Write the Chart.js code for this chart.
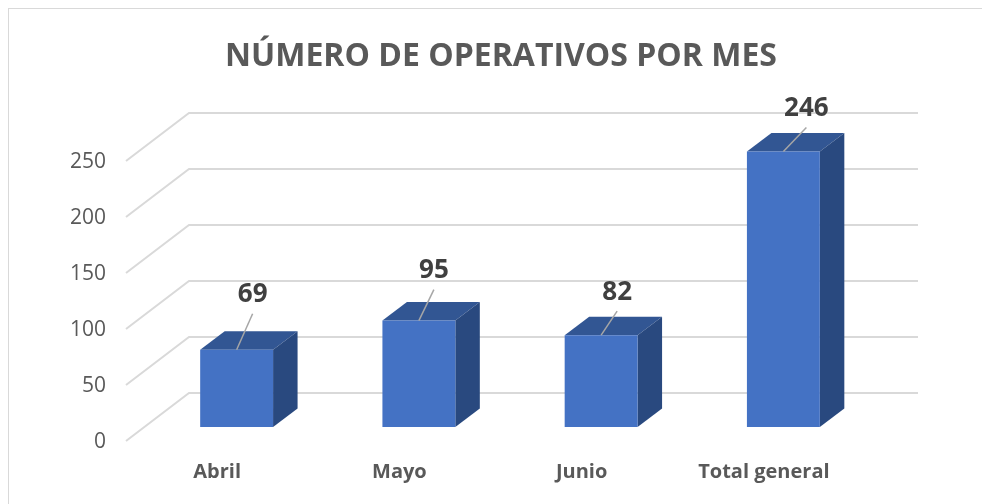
<!DOCTYPE html>
<html>
<head>
<meta charset="utf-8">
<style>
  html, body { margin: 0; padding: 0; background: #fff; }
  #wrap { position: relative; width: 982px; height: 504px; overflow: hidden; }
  #frame { position: absolute; left: 8px; top: 8px; width: 1100px; height: 600px; border: 1.5px solid #d9d9d9; }
  canvas { position: absolute; left: 0; top: 0; }
</style>
<script src="https://cdn.jsdelivr.net/npm/chart.js@4/dist/chart.umd.min.js"></script>
</head>
<body>
<div id="wrap">
  <div id="frame"></div>
  <canvas id="chart" width="982" height="504"></canvas>
</div>
<script>
const categories = ["Abril", "Mayo", "Junio", "Total general"];
const operativos = [69, 95, 82, 246];
const yTicks = [0, 50, 100, 150, 200, 250];

// fake 3d: front wall -> back wall offset, bar sits part way along it
const wallDx = 63, wallDy = -48;
const barDx = 19.5, barDy = -14;
const depthDx = 24.5, depthDy = -18.5;
// leader line end, relative to the bar's top centre
const leaderEnd = [[16, -36], [15, -31], [16, -24], [23, -24]];
const labelDy = -19;
const tickShift = 1.5;

const fontName = "'Open Sans', sans-serif";

const fake3d = {
  id: "fake3d",
  afterLayout(chart) {
    // tick labels sit a bit under their gridline in the original
    const s = chart.scales.y;
    const drawLabels = s.drawLabels;
    s.drawLabels = function (area) {
      chart.ctx.save();
      chart.ctx.translate(0, tickShift);
      drawLabels.call(this, area);
      chart.ctx.restore();
    };
  },
  beforeDatasetsDraw(chart) {
    const { ctx, scales } = chart;
    const y = scales.y;
    const left = chart.chartArea.left, right = chart.chartArea.right;

    ctx.save();
    ctx.strokeStyle = "#d9d9d9";
    ctx.lineWidth = 2;
    yTicks.forEach(v => {
      const py = y.getPixelForValue(v);
      ctx.beginPath();
      ctx.moveTo(left, py);
      ctx.lineTo(left + wallDx, py + wallDy);
      ctx.lineTo(right + wallDx, py + wallDy);
      ctx.stroke();
    });

    // top and side faces, front face is the real bar
    chart.getDatasetMeta(0).data.forEach(bar => {
      const l = bar.x - bar.width / 2 + barDx;
      const r = bar.x + bar.width / 2 + barDx;
      const t = bar.y + barDy;
      const b = bar.base + barDy;

      ctx.fillStyle = "#325693";
      ctx.beginPath();
      ctx.moveTo(l, t);
      ctx.lineTo(l + depthDx, t + depthDy);
      ctx.lineTo(r + depthDx, t + depthDy);
      ctx.lineTo(r, t);
      ctx.closePath();
      ctx.fill();

      ctx.fillStyle = "#29497f";
      ctx.beginPath();
      ctx.moveTo(r, t);
      ctx.lineTo(r + depthDx, t + depthDy);
      ctx.lineTo(r + depthDx, b + depthDy);
      ctx.lineTo(r, b);
      ctx.closePath();
      ctx.fill();
    });
    ctx.restore();

    ctx.save();
    ctx.translate(barDx, barDy);
  },
  afterDatasetsDraw(chart) {
    const { ctx } = chart;
    ctx.restore();

    ctx.save();
    chart.getDatasetMeta(0).data.forEach((bar, i) => {
      const x0 = bar.x + barDx;
      const y0 = bar.y + barDy;
      const x1 = x0 + leaderEnd[i][0];
      const y1 = y0 + leaderEnd[i][1];

      ctx.strokeStyle = "#a6a6a6";
      ctx.lineWidth = 1.5;
      ctx.beginPath();
      ctx.moveTo(x0, y0);
      ctx.lineTo(x1, y1);
      ctx.stroke();

      ctx.fillStyle = "#404040";
      ctx.font = "bold 26px " + fontName;
      ctx.textAlign = "center";
      ctx.textBaseline = "middle";
      ctx.fillText(operativos[i], x1, y1 + labelDy);
    });
    ctx.restore();
  }
};

new Chart(document.getElementById("chart").getContext("2d"), {
  type: "bar",
  data: {
    labels: categories,
    datasets: [{
      data: operativos,
      backgroundColor: "#4472c4",
      barPercentage: 0.4,
      categoryPercentage: 1
    }]
  },
  options: {
    responsive: false,
    animation: false,
    layout: { padding: { left: 20, right: 0, top: 0, bottom: 0 } },
    plugins: {
      legend: { display: false },
      tooltip: { enabled: false },
      title: {
        display: true,
        text: "NÚMERO DE OPERATIVOS POR MES",
        color: "#595959",
        font: { family: fontName, size: 32, weight: "bold" },
        padding: { top: 37.5, bottom: 85.1 }
      }
    },
    scales: {
      x: {
        grid: { display: false, drawTicks: false },
        border: { display: false },
        afterFit: s => { s.height = 63; },
        ticks: {
          color: "#595959",
          padding: 19,
          maxRotation: 0,
          font: { family: fontName, size: 20, weight: "bold" }
        }
      },
      y: {
        min: 0,
        max: 250,
        grid: { display: false, drawTicks: false },
        border: { display: false },
        afterFit: s => { s.width = 106; },
        ticks: {
          stepSize: 50,
          color: "#595959",
          padding: 20,
          font: { family: fontName, size: 21 }
        }
      },
      // empty axis, only keeps room for the back wall so the title stays centred
      spacer: {
        position: "right",
        min: 0,
        max: 250,
        grid: { display: false, drawTicks: false },
        border: { display: false },
        ticks: { display: false },
        afterFit: s => { s.width = 127; }
      }
    }
  },
  plugins: [fake3d]
});
</script>
</body>
</html>
